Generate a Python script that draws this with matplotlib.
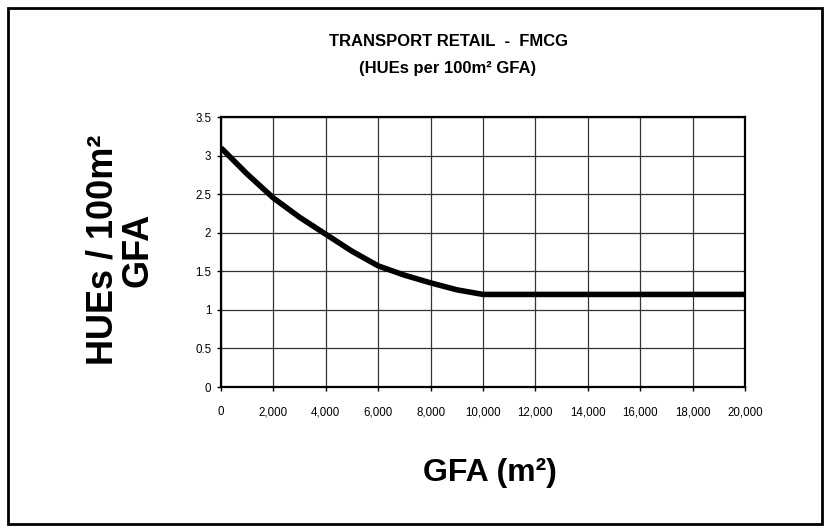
import matplotlib.pyplot as plt
from matplotlib.patches import Rectangle

# curve (HUEs per 100 m2 GFA against GFA)
gfa = [0, 1000, 2000, 3000, 4000, 5000, 6000, 7000, 8000, 9000, 10000, 20000]
hues = [3.1, 2.76, 2.45, 2.2, 1.98, 1.76, 1.57, 1.45, 1.35, 1.26, 1.2, 1.2]

x_ticks = list(range(0, 20001, 2000))
x_tick_labels = [f"{v:,}" for v in x_ticks]
y_ticks = [0, 0.5, 1, 1.5, 2, 2.5, 3, 3.5]
y_tick_labels = ["0", "0.5", "1", "1.5", "2", "2.5", "3", "3.5"]

plt.rcParams["font.family"] = ["Liberation Sans", "DejaVu Sans"]

fig = plt.figure(figsize=(8.3, 5.32), dpi=100)
fig.patch.set_facecolor("white")

# outer chart border
fig.patches.append(Rectangle((8 / 830, 8 / 532), 814 / 830, 516 / 532,
                             transform=fig.transFigure, fill=False,
                             edgecolor="black", linewidth=2))

ax = fig.add_axes([221 / 830, 1 - 387 / 532, 524 / 830, 270 / 532])
ax.plot(gfa, hues, color="black", linewidth=4, solid_capstyle="butt", zorder=3)

ax.set_xlim(0, 20000)
ax.set_ylim(0, 3.5)
ax.set_xticks(x_ticks)
ax.set_xticklabels(x_tick_labels)
ax.set_yticks(y_ticks)
ax.set_yticklabels(y_tick_labels)
ax.tick_params(axis="x", direction="out", length=3, width=1, pad=11, labelsize=8.3)
ax.tick_params(axis="y", direction="out", length=3, width=1, pad=4, labelsize=8.3)
ax.grid(True, color="#333333", linewidth=0.9)
ax.set_axisbelow(True)
for s in ax.spines.values():
    s.set_linewidth(1.6)
    s.set_color("black")

fig.text(448 / 830, 1 - 42 / 532, "TRANSPORT RETAIL  -  FMCG", ha="center", va="center",
         fontsize=12, fontweight="bold")
fig.text(448 / 830, 1 - 68 / 532, "(HUEs per 100m² GFA)", ha="center", va="center",
         fontsize=12, fontweight="bold")

fig.text(490 / 830, 1 - 473 / 532, "GFA (m²)", ha="center", va="center",
         fontsize=23, fontweight="bold")
fig.text(103 / 830, 1 - 250 / 532, "HUEs / 100m²", ha="center", va="center",
         rotation=90, fontsize=26, fontweight="bold")
fig.text(138 / 830, 1 - 250 / 532, "GFA", ha="center", va="center",
         rotation=90, fontsize=26, fontweight="bold")

fig.savefig("out.png", dpi=100)
